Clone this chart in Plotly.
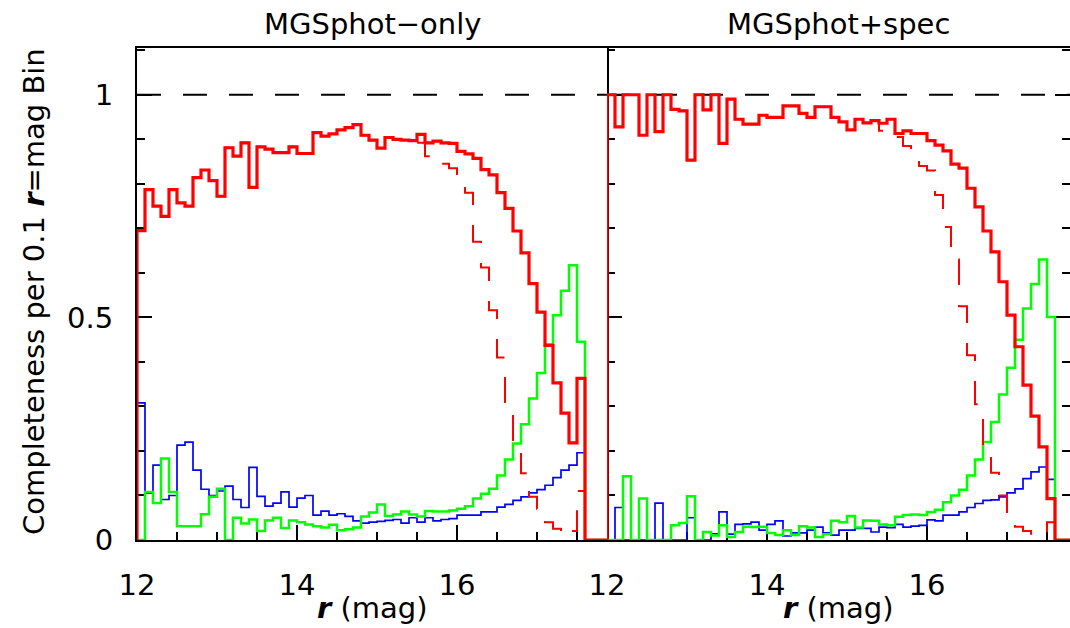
import plotly.graph_objects as go

# ---------------- data (0.1 mag bins, lower edges 12.0 ... 17.8) ----------------
BIN_LO = [round(12.0 + 0.1 * i, 1) for i in range(59)]
BIN_END = 17.9

# MGSphot-only panel
phot_red = [0.695, 0.787, 0.750, 0.727, 0.787, 0.757, 0.750, 0.814, 0.831, 0.807,
            0.772, 0.881, 0.862, 0.892, 0.792, 0.883, 0.878, 0.870, 0.870, 0.883,
            0.868, 0.868, 0.915, 0.907, 0.912, 0.921, 0.926, 0.933, 0.909, 0.898,
            0.880, 0.904, 0.900, 0.898, 0.897, 0.911, 0.892, 0.896, 0.892, 0.891,
            0.873, 0.867, 0.857, 0.832, 0.820, 0.780, 0.745, 0.694, 0.645, 0.576,
            0.512, 0.437, 0.353, 0.285, 0.218, 0.363, 0.0, 0.0, 0.0]
phot_red_dash = [0.695, 0.787, 0.750, 0.727, 0.787, 0.757, 0.750, 0.814, 0.831, 0.807,
                 0.772, 0.881, 0.862, 0.892, 0.792, 0.883, 0.878, 0.870, 0.870, 0.883,
                 0.868, 0.868, 0.915, 0.907, 0.912, 0.921, 0.926, 0.933, 0.909, 0.898,
                 0.880, 0.904, 0.900, 0.898, 0.897, 0.892, 0.862, 0.855, 0.845, 0.835,
                 0.800, 0.780, 0.670, 0.612, 0.516, 0.410, 0.303, 0.213, 0.150, 0.097,
                 0.070, 0.040, 0.025, 0.010, 0.020, 0.110, 0.0, 0.0, 0.0]
phot_green = [0.0, 0.108, 0.083, 0.183, 0.108, 0.031, 0.031, 0.031, 0.058, 0.097,
              0.115, 0.0, 0.050, 0.037, 0.046, 0.020, 0.044, 0.050, 0.027, 0.044,
              0.040, 0.035, 0.031, 0.028, 0.034, 0.022, 0.024, 0.028, 0.053, 0.062,
              0.080, 0.054, 0.057, 0.064, 0.057, 0.053, 0.065, 0.064, 0.064, 0.066,
              0.070, 0.076, 0.093, 0.104, 0.115, 0.145, 0.181, 0.217, 0.260, 0.318,
              0.375, 0.439, 0.505, 0.560, 0.617, 0.445, 0.0, 0.0, 0.0]
phot_blue = [0.308, 0.105, 0.168, 0.091, 0.100, 0.213, 0.220, 0.157, 0.114, 0.100,
             0.110, 0.121, 0.091, 0.073, 0.163, 0.098, 0.076, 0.083, 0.108, 0.074,
             0.094, 0.100, 0.056, 0.065, 0.056, 0.059, 0.053, 0.043, 0.038, 0.040,
             0.042, 0.044, 0.046, 0.038, 0.050, 0.040, 0.050, 0.043, 0.046, 0.048,
             0.056, 0.056, 0.056, 0.063, 0.063, 0.074, 0.080, 0.089, 0.097, 0.106,
             0.113, 0.123, 0.140, 0.157, 0.168, 0.196, 0.0, 0.0, 0.0]

# MGSphot+spec panel
spec_red = [1.000, 0.928, 1.000, 1.000, 0.909, 1.000, 0.917, 1.000, 0.967, 0.964,
            0.853, 1.000, 0.966, 1.000, 0.891, 0.990, 0.945, 0.934, 0.934, 0.954,
            0.949, 0.949, 0.975, 0.975, 0.958, 0.949, 0.973, 0.973, 0.949, 0.939,
            0.921, 0.945, 0.937, 0.942, 0.936, 0.945, 0.913, 0.919, 0.913, 0.913,
            0.897, 0.887, 0.874, 0.844, 0.835, 0.790, 0.748, 0.694, 0.647, 0.580,
            0.505, 0.434, 0.348, 0.278, 0.209, 0.093, 0.0, 0.0, 0.0]
spec_red_dash = [1.000, 0.928, 1.000, 1.000, 0.909, 1.000, 0.917, 1.000, 0.967, 0.964,
                 0.853, 1.000, 0.966, 1.000, 0.891, 0.990, 0.945, 0.934, 0.934, 0.954,
                 0.949, 0.949, 0.975, 0.975, 0.958, 0.949, 0.973, 0.973, 0.949, 0.939,
                 0.921, 0.945, 0.937, 0.942, 0.919, 0.919, 0.905, 0.885, 0.862, 0.840,
                 0.830, 0.775, 0.703, 0.630, 0.525, 0.415, 0.305, 0.200, 0.151, 0.100,
                 0.063, 0.030, 0.020, 0.014, 0.010, 0.040, 0.0, 0.0, 0.0]
spec_green = [0.0, 0.0, 0.143, 0.0, 0.093, 0.0, 0.0, 0.0, 0.033, 0.038,
              0.098, 0.0, 0.018, 0.010, 0.033, 0.007, 0.018, 0.030, 0.029, 0.030,
              0.016, 0.011, 0.022, 0.011, 0.031, 0.028, 0.007, 0.013, 0.043, 0.040,
              0.054, 0.028, 0.044, 0.043, 0.035, 0.033, 0.052, 0.056, 0.057, 0.056,
              0.063, 0.068, 0.085, 0.100, 0.113, 0.145, 0.181, 0.220, 0.265, 0.327,
              0.387, 0.450, 0.520, 0.575, 0.630, 0.501, 0.0, 0.0, 0.0]
spec_blue = [0.0, 0.073, 0.0, 0.0, 0.0, 0.0, 0.083, 0.0, 0.0, 0.0,
             0.050, 0.0, 0.0, 0.014, 0.063, 0.013, 0.035, 0.036, 0.040, 0.022,
             0.035, 0.043, 0.009, 0.016, 0.016, 0.022, 0.029, 0.016, 0.011, 0.022,
             0.022, 0.026, 0.026, 0.018, 0.029, 0.028, 0.035, 0.029, 0.031, 0.033,
             0.045, 0.043, 0.056, 0.056, 0.063, 0.073, 0.082, 0.089, 0.090, 0.097,
             0.106, 0.115, 0.138, 0.153, 0.164, 0.136, 0.0, 0.0, 0.0]

REF_LEVEL = 1.0
X_TICKS = [12, 14, 16]
X_TICK_TEXT = ["12", "14", "16"]
Y_TICKS = [0, 0.5, 1]
Y_TICK_TEXT = ["0", "0.5", "1"]
PANEL_TITLES = ["MGSphot\u2212only", "MGSphot+spec"]

for arr in (phot_red, phot_red_dash, phot_green, phot_blue,
            spec_red, spec_red_dash, spec_green, spec_blue):
    assert len(arr) == len(BIN_LO)

# ---------------- figure ----------------
FONT = "DejaVu Sans"
FS = 29
RED, GREEN, BLUE = "#ff0000", "#00ff00", "#0000ff"

W, H = 1070, 628
ML, MR, MT, MB = 137, 0, 48, 88
PW = W - ML - MR
split = 470 / PW
X1_MAX = 12 + 470 / 80.0
X2_MAX = 12 + (PW - 470) / 80.0


def step_xy(vals):
    x = [BIN_LO[0]] + BIN_LO + [BIN_END]
    y = [0.0] + list(vals) + [vals[-1]]
    return x, y


fig = go.Figure()

panels = [
    ("x", "y", X1_MAX, phot_blue, phot_green, phot_red_dash, phot_red),
    ("x2", "y2", X2_MAX, spec_blue, spec_green, spec_red_dash, spec_red),
]
for xa, ya, xmax, blue, green, rdash, red in panels:
    fig.add_trace(go.Scatter(x=[12, xmax], y=[REF_LEVEL, REF_LEVEL], mode="lines",
                             line=dict(color="black", width=2, dash="24px,22px"),
                             xaxis=xa, yaxis=ya, showlegend=False, hoverinfo="skip"))
    for vals, col, wid, dash in [(blue, BLUE, 1.7, "solid"),
                                 (green, GREEN, 2.5, "solid"),
                                 (rdash, RED, 2.0, "26px,20px"),
                                 (red, RED, 3.2, "solid")]:
        xs, ys = step_xy(vals)
        fig.add_trace(go.Scatter(x=xs, y=ys, mode="lines", line_shape="hv",
                                 line=dict(color=col, width=wid, dash=dash),
                                 xaxis=xa, yaxis=ya, showlegend=False,
                                 hoverinfo="skip"))

common_x = dict(
    tickvals=X_TICKS, ticktext=X_TICK_TEXT, ticks="inside", ticklen=15,
    tickwidth=2, tickcolor="black", showline=True, linewidth=2,
    linecolor="black", mirror=True, showgrid=False, zeroline=False,
    minor=dict(tick0=12, dtick=0.5, ticks="inside", ticklen=8, tickwidth=2,
               tickcolor="black", showgrid=False),
    tickfont=dict(family=FONT, size=FS, color="black"),
    ticklabelstandoff=18, layer="below traces",
)
common_y = dict(
    range=[0, 1.105], tickvals=Y_TICKS, ticktext=Y_TICK_TEXT, ticks="inside",
    ticklen=15, tickwidth=2, tickcolor="black", showgrid=False,
    zeroline=False,
    minor=dict(tick0=0, dtick=0.1, ticks="inside", ticklen=8, tickwidth=2,
               tickcolor="black", showgrid=False),
    tickfont=dict(family=FONT, size=FS, color="black"),
    ticklabelstandoff=16, layer="below traces",
)

fig.update_layout(
    width=W, height=H,
    margin=dict(l=ML, r=MR, t=MT, b=MB),
    paper_bgcolor="white", plot_bgcolor="white",
    xaxis=dict(domain=[0, split], range=[12, X1_MAX], anchor="y", **common_x),
    xaxis2=dict(domain=[split, 1], range=[12, X2_MAX], anchor="y2", **common_x),
    yaxis=dict(domain=[0, 1], anchor="x", showline=True, linewidth=2,
               linecolor="black", mirror=True, **common_y),
    yaxis2=dict(domain=[0, 1], anchor="x2", showline=False, mirror="ticks",
                showticklabels=False, **common_y),
)

ann_font = dict(family=FONT, size=FS, color="black")
for ref, title in zip(["x domain", "x2 domain"], PANEL_TITLES):
    fig.add_annotation(text=title, x=0.5, xref=ref, y=1 + (MT - 24) / (H - MT - MB),
                       yref="paper", xanchor="center", yanchor="middle",
                       showarrow=False, font=ann_font)
    fig.add_annotation(text="<b><i>r</i></b> (mag)", x=0.5, xref=ref,
                       y=-(608 - (H - MB)) / (H - MT - MB), yref="paper",
                       xanchor="center", yanchor="middle", showarrow=False,
                       font=ann_font)

fig.add_annotation(text="Completeness per 0.1 <b><i>r</i></b>=mag Bin",
                   x=(34 - ML) / PW, xref="paper",
                   y=(H - MB - 292) / (H - MT - MB), yref="paper",
                   textangle=-90, xanchor="center", yanchor="middle",
                   showarrow=False, font=ann_font)

fig.write_html("out.html")
